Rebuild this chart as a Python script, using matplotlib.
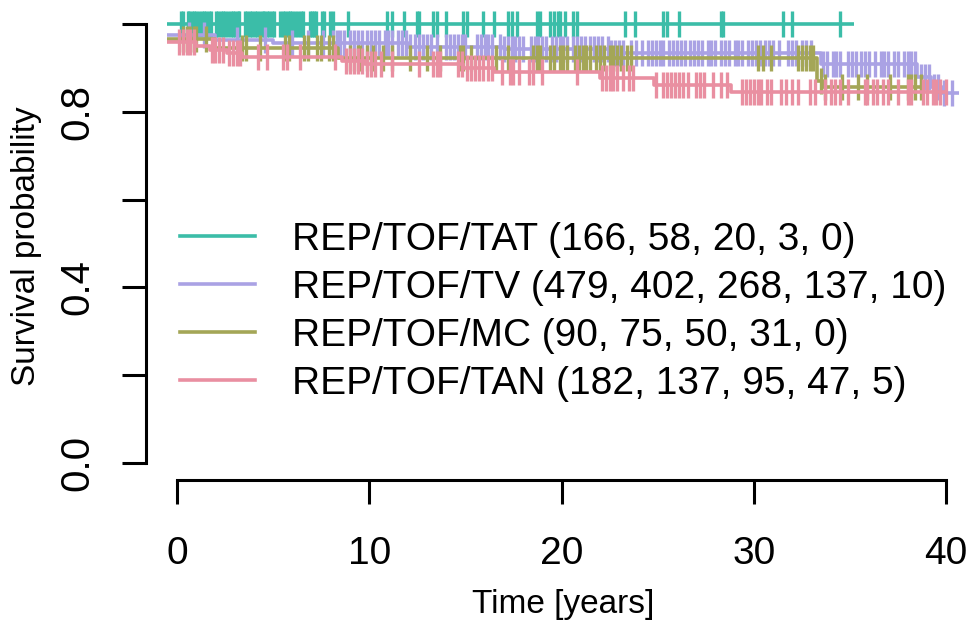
import numpy as np
import matplotlib
matplotlib.use("Agg")
import matplotlib.pyplot as plt
from matplotlib.lines import Line2D

plt.rcParams['font.family'] = ['Liberation Sans', 'DejaVu Sans']

# ---------------- data ----------------
groups = ["REP/TOF/TAT", "REP/TOF/TV", "REP/TOF/MC", "REP/TOF/TAN"]
at_risk = ["166, 58, 20, 3, 0", "479, 402, 268, 137, 10", "90, 75, 50, 31, 0", "182, 137, 95, 47, 5"]
colors = ["#3BBDA8", "#AAA2E4", "#A4A657", "#E98FA1"]

start_time = -0.5

# TAT
tat_start = 1.0
tat_event_t = []
tat_event_s = []
tat_end = 35.2
tat_cens = [0.2, 0.3, 0.55, 0.65, 0.8, 0.9, 1.0, 1.15, 1.3, 1.4, 1.5, 1.65, 1.75, 2.05, 2.15, 2.3,
            2.4, 2.5, 2.65, 2.8, 2.9, 3.0, 3.15, 3.25, 3.55, 3.65, 3.8, 3.9, 4.05, 4.15, 4.3, 4.45,
            4.55, 4.7, 4.8, 4.95, 5.05, 5.35, 5.5, 5.6, 5.75, 5.9, 6.0, 6.15, 6.3, 6.45, 6.55, 6.9,
            7.0, 7.15, 7.25, 7.55, 7.65, 7.95, 8.1, 8.9, 10.9, 11.2, 11.8, 12.5, 12.6, 13.3, 13.5,
            14.0, 14.9, 15.1, 15.9, 16.5, 17.2, 17.4, 17.7, 18.7, 18.9, 19.4, 19.6, 19.8, 19.9,
            20.2, 20.6, 20.8, 23.3, 23.8, 25.3, 25.5, 26.1, 28.3, 28.4, 31.5, 32.0, 34.5]

# TV
tv_start = 0.975
tv_event_t = [2.0, 5.0, 12.0, 17.0, 22.5, 33.5, 38.5, 39.2, 39.8]
tv_event_s = [0.963, 0.957, 0.947, 0.942, 0.935, 0.910, 0.880, 0.857, 0.843]
tv_end = 40.7
tv_cens = [0.6, 1.4, 3.1, 4.6, 6.0, 6.8, 7.6,
           8.1, 8.3, 8.5, 8.7, 9.0, 9.2, 9.4, 9.6, 9.9, 10.1, 10.3, 10.5, 10.8, 11.0, 11.2, 11.5,
           11.7, 11.9, 12.1, 12.4, 12.6, 12.8, 13.0, 13.2, 13.5, 14.0, 14.2, 14.4, 14.6, 14.8,
           15.0, 15.6, 15.8, 16.0, 16.2, 16.4, 16.8, 17.0, 17.2, 17.4, 17.6, 17.8, 18.0, 18.4,
           18.6, 18.8, 19.0, 19.2, 19.5, 19.7, 19.9, 20.1, 20.3, 20.6, 20.8, 21.0, 21.2, 21.5,
           21.7, 21.9, 22.1, 22.4, 22.6, 22.8, 23.0, 23.2, 23.6, 23.9, 24.2, 24.5, 24.7, 24.9,
           25.1, 25.3, 25.6, 25.8, 26.0, 26.2, 26.4, 26.7, 26.9, 27.1, 27.3, 27.6, 27.8, 28.0,
           28.3, 28.5, 28.7, 29.0, 29.2, 29.4, 29.7, 29.9, 30.1, 30.3, 30.6, 30.8, 31.0, 31.3,
           31.8, 32.0, 32.2, 32.5, 32.7, 33.0, 33.6, 33.8, 34.1, 34.3, 34.5, 34.9, 35.1, 35.3,
           35.6, 35.8, 36.0, 36.3, 36.6, 36.8, 37.0, 37.3, 37.5, 37.8, 38.0, 38.2, 38.4, 38.7,
           38.9, 39.1, 39.4, 39.6, 39.9, 40.3]

# MC
mc_start = 0.965
mc_event_t = [2.0, 8.4, 33.3, 33.6]
mc_event_s = [0.945, 0.922, 0.870, 0.857]
mc_end = 38.7
mc_cens = [0.3, 0.5, 0.7, 0.9, 1.0, 1.5, 3.4, 3.6, 4.3, 5.6, 5.8, 6.6, 6.8, 7.3, 7.5, 7.9, 8.1,
           9.0, 9.4, 9.5, 9.9, 10.2, 10.7, 11.2, 12.1, 13.0, 13.7, 14.7, 14.9, 15.3, 16.6, 17.2,
           18.5, 18.7, 18.9, 19.4, 19.6, 19.9, 20.1, 20.3, 20.7, 20.9, 21.1, 21.3, 21.5, 21.8,
           22.0, 22.2, 22.5, 22.7, 22.9, 23.1, 23.4, 23.6, 30.2, 30.5, 30.9, 32.3, 32.5, 32.7,
           32.9, 33.1, 33.5, 33.7, 34.6, 35.4, 35.9, 37.1, 38.0, 38.2, 38.4, 38.7]

# TAN
tan_start = 0.958
tan_event_t = [1.0, 1.7, 2.6, 3.4, 8.6, 9.8, 14.9, 16.5, 22.0, 24.8, 28.8]
tan_event_s = [0.950, 0.940, 0.933, 0.925, 0.915, 0.910, 0.900, 0.890, 0.877, 0.862, 0.845]
tan_end = 40.1
tan_cens = [0.1, 0.3, 0.5, 0.7, 0.9, 1.8, 2.0, 2.2, 2.4, 2.7, 2.9, 3.1, 3.3, 4.2, 4.7, 5.5, 5.7,
            6.4, 8.2, 8.8, 9.0, 9.2, 9.4, 9.6, 9.9, 10.1, 10.3, 10.6, 11.2, 12.6, 13.3, 13.5, 13.7,
            14.6, 14.8, 15.1, 15.3, 15.5, 15.7, 15.9, 16.2, 16.4, 16.9, 17.3, 17.5, 17.8, 18.3,
            18.5, 19.0, 20.8, 22.1, 22.3, 22.5, 22.7, 22.9, 23.2, 23.5, 23.7, 24.9, 25.3, 25.5,
            25.7, 25.9, 26.1, 26.3, 26.6, 27.0, 27.2, 27.4, 27.9, 28.3, 28.6, 29.4, 29.6, 29.8,
            30.0, 30.2, 30.4, 30.7, 30.9, 31.4, 31.7, 32.0, 32.3, 32.9, 33.2, 33.7, 34.0, 34.2,
            34.5, 34.9, 35.8, 35.9, 36.2, 36.4, 36.7, 37.0, 37.5, 38.0, 38.2, 38.8, 39.0, 39.3,
            39.5, 39.7, 40.0]

curves = [
    (tat_start, tat_event_t, tat_event_s, tat_end, tat_cens),
    (tv_start, tv_event_t, tv_event_s, tv_end, tv_cens),
    (mc_start, mc_event_t, mc_event_s, mc_end, mc_cens),
    (tan_start, tan_event_t, tan_event_s, tan_end, tan_cens),
]

x_ticks = [0, 10, 20, 30, 40]
y_ticks = [0.0, 0.2, 0.4, 0.6, 0.8, 1.0]
y_ticklabels = ["0.0", "", "0.4", "", "0.8", ""]

# ---------------- figure ----------------
W, H = 970, 622
fig = plt.figure(figsize=(W / 100, H / 100), dpi=100)
ax = fig.add_axes([146 / W, 1 - 480 / H, (966 - 146) / W, 480 / H])
ax.set_xlim(-1.6125, 41.04)
ax.set_ylim(-0.0387, 1.0547)

lw = 2.6
for (s0, et, es, tend, cens), col in zip(curves, colors):
    tt = np.array([start_time] + list(et) + [tend])
    ss = np.array([s0] + list(es) + [es[-1] if len(es) else s0])
    ax.step(tt, ss, where="post", color=col, lw=lw, solid_capstyle="butt", zorder=3)
    c = np.array(cens)
    idx = np.searchsorted(tt, c, side="right") - 1
    ax.plot(c, ss[idx], ls="none", marker="|", ms=19, mew=2.4, color=col, zorder=3)

for sp in ["top", "right"]:
    ax.spines[sp].set_visible(False)
for sp in ["left", "bottom"]:
    ax.spines[sp].set_linewidth(2.2)
ax.spines["left"].set_bounds(0, 1)
ax.spines["bottom"].set_bounds(0, 40)

ax.set_xticks(x_ticks)
ax.set_xticklabels([str(v) for v in x_ticks])
ax.set_yticks(y_ticks)
ax.set_yticklabels(y_ticklabels)
ax.tick_params(axis="both", direction="out", length=17.5, width=2.2)
ax.tick_params(axis="x", pad=23, labelsize=28)
ax.tick_params(axis="y", pad=18, labelsize=29)
for lab in ax.get_yticklabels():
    lab.set_rotation(90)
    lab.set_va("center")

fig.text(27 / W, 1 - 246 / H, "Survival probability", rotation=90, ha="center", va="center",
         fontsize=24)
fig.text(563 / W, 1 - 613 / H, "Time [years]", ha="center", va="baseline", fontsize=24)

handles = [Line2D([], [], color=c, lw=2.6) for c in colors]
labels = [f"{g} ({r})" for g, r in zip(groups, at_risk)]
ax.legend(handles, labels, loc="center left", bbox_to_anchor=(180 / W, 1 - 312 / H),
          bbox_transform=fig.transFigure, frameon=False, fontsize=28, borderpad=0,
          borderaxespad=0, handlelength=75 / 39, handletextpad=37 / 39, labelspacing=0.31)

fig.savefig("out.png", dpi=100)
